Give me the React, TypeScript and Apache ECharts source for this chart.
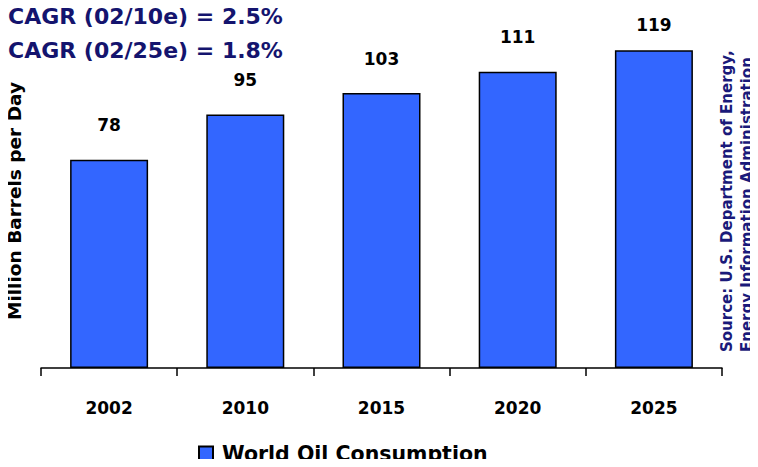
import React, { useEffect, useRef } from "react";
import * as echarts from "echarts";

const years = ["2002", "2010", "2015", "2020", "2025"];
const consumption = [78, 95, 103, 111, 119];
const seriesName = "World Oil Consumption";
const titleLines = ["CAGR (02/10e) = 2.5%", "CAGR (02/25e) = 1.8%"];
const yAxisTitle = "Million Barrels per Day";
const sourceLines = ["Source: U.S. Department of Energy,", "Energy Information Administration"];

const FONT = "'DejaVu Sans', Verdana, sans-serif";

export default function App() {
  const ref = useRef<HTMLDivElement>(null);
  useEffect(() => {
    if (!ref.current) return;
    const chart = echarts.init(ref.current, null, { renderer: "svg" });
    const data = consumption.map((v, i) => ({
      value: v,
      label: i === consumption.length - 1 ? { distance: 17 } : undefined,
    }));
    chart.setOption({
      animation: false,
      backgroundColor: "#ffffff",
      title: {
        text: titleLines.join("\n"),
        left: 8,
        top: -1,
        padding: 0,
        textStyle: {
          fontFamily: FONT,
          fontSize: 22,
          fontWeight: "bold",
          color: "#14146e",
          lineHeight: 34,
        },
      },
      legend: {
        left: 198,
        top: 443,
        padding: 0,
        icon: "rect",
        itemWidth: 14,
        itemHeight: 14,
        itemGap: 8,
        textStyle: {
          fontFamily: FONT,
          fontSize: 20.5,
          fontWeight: "bold",
          color: "#000",
          padding: [0, 0, 0, 4],
        },
        data: [seriesName],
      },
      grid: { left: 41, right: 36, top: 21, bottom: 99 },
      xAxis: {
        type: "category",
        data: years,
        axisLine: { show: true, lineStyle: { color: "#000", width: 1.5 } },
        axisTick: { show: true, length: 8, lineStyle: { color: "#000", width: 1.5 } },
        axisLabel: {
          margin: 31,
          fontFamily: FONT,
          fontSize: 17,
          fontWeight: "bold",
          color: "#000",
        },
      },
      yAxis: {
        type: "value",
        min: 0,
        max: 130,
        axisLine: { show: false },
        axisTick: { show: false },
        axisLabel: { show: false },
        splitLine: { show: false },
      },
      series: [
        {
          name: seriesName,
          type: "bar",
          data,
          barWidth: 78,
          itemStyle: { color: "#3366ff", borderColor: "#000", borderWidth: 1.5 },
          label: {
            show: true,
            position: "top",
            distance: 26,
            fontFamily: FONT,
            fontSize: 17,
            fontWeight: "bold",
            color: "#000",
          },
        },
      ],
      graphic: [
        {
          type: "text",
          x: 14,
          y: 201,
          rotation: Math.PI / 2,
          style: {
            text: yAxisTitle,
            font: `bold 18.5px ${FONT}`,
            fill: "#000",
            textAlign: "center",
            textVerticalAlign: "middle",
          },
        },
        {
          type: "text",
          x: 717,
          y: 352,
          rotation: Math.PI / 2,
          style: {
            text: sourceLines.join("\n"),
            font: `bold 15px ${FONT}`,
            fill: "#1a1a7a",
            textAlign: "left",
            textVerticalAlign: "top",
            lineHeight: 20,
          },
        },
      ],
    });
    return () => chart.dispose();
  }, []);
  return <div ref={ref} style={{ width: 758, height: 467, margin: -8 }} />;
}
